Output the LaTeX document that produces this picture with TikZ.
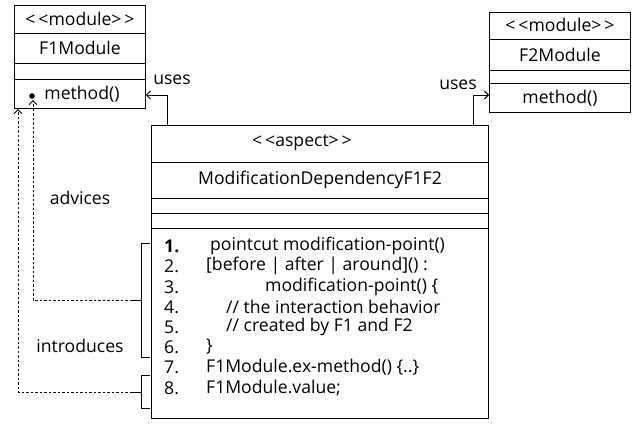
\documentclass[tikz,border=0pt]{standalone}
\usepackage{fontspec}
\setmainfont{Open Sans}
\usetikzlibrary{arrows.meta}
\begin{document}
\begin{tikzpicture}[x=1pt,y=-1pt,
  box/.style={draw,line width=0.9pt,minimum width=#1,inner sep=0pt,anchor=north west},
  sep/.style={line width=0.9pt},
  txt/.style={font=\fontsize{17.6}{19}\selectfont,inner sep=0pt},
  code/.style={txt,anchor=west},
  conn/.style={line width=0.9pt,-{Straight Barb[length=4pt,width=8pt]}},
  dep/.style={line width=0.9pt,dash pattern=on 2.5pt off 2pt,-{Straight Barb[length=4pt,width=8pt]}},
  brk/.style={line width=0.9pt}]
\path[use as bounding box] (0,0) rectangle (636,423);

% F1 module
\node[box=131pt,minimum height=103pt] (f1) at (14,5) {};
\draw[sep] (14,33) -- (145,33) (14,63) -- (145,63) (14,79) -- (145,79);
\node[txt] (f1st) at (80,19) {<\,<module>\,>};
\node[txt] (f1name) at (80,48) {F1Module};
\node[txt] (f1m) at (82,94) {method()};
\fill (32,96) circle (2.8pt);
\coordinate (f1dot) at (33,100);

% F2 module
\node[box=141pt,minimum height=100pt] (f2) at (489,12) {};
\draw[sep] (489,39) -- (630,39) (489,70) -- (630,70) (489,83) -- (630,83);
\node[txt] (f2st) at (560,25) {<\,<module>\,>};
\node[txt] (f2name) at (560,55) {F2Module};
\node[txt] (f2m) at (560,98) {method()};

% aspect
\draw[line width=1pt] (151,125) -- (488,125) -- (488,418.5) -- (151,418.5) -- cycle;
\coordinate (asp) at (151,125);
\draw[sep] (151,162) -- (488,162) (151,198) -- (488,198) (151,213) -- (488,213) (151,228) -- (488,228);
\node[txt] (aspst) at (302,143) {<\,<aspect>\,>};
\node[txt] (aspname) at (320,180) {ModificationDependencyF1F2};

% code lines
\node[code] (n1) at (164,246) {\textbf{1.}};
\node[code] (n2) at (164,266) {2.};
\node[code] (n3) at (164,287) {3.};
\node[code] (n4) at (164,307) {4.};
\node[code] (n5) at (164,327) {5.};
\node[code] (n6) at (164,347) {6.};
\node[code] (n7) at (164,367) {7.};
\node[code] (n8) at (164,388) {8.};
\node[code] (c1) at (210,246) {pointcut modification-point()};
\node[code] (c2) at (206,266) {[before | after | around]() :};
\node[code] (c3) at (265,287) {modification-point() \{};
\node[code] (c4) at (226,307) {// the interaction behavior};
\node[code] (c5) at (226,327) {// created by F1 and F2};
\node[code] (c6) at (206,347) {\}};
\node[code] (c7) at (206,367) {F1Module.ex-method() \{..\}};
\node[code] (c8) at (206,388) {F1Module.value;};

% uses connectors
\coordinate (u1) at (167,125);
\coordinate (u2) at (473,125);
\draw[conn] (u1) |- (f1.east |- 0,95);
\draw[conn] (u2) |- (f2.west |- 0,95);
\node[txt] (uses1) at (172,80) {uses};
\node[txt] (uses2) at (458,85) {uses};

% brackets
\draw[brk] (150,243) -- (141,243) -- (141,357) -- (150,357);
\draw[brk] (150,375) -- (141,375) -- (141,408) -- (150,408);
\coordinate (b1) at (141,300);
\coordinate (b2) at (141,392);
\coordinate (b1e) at (132,300);
\coordinate (b2e) at (132,392);
\draw[brk] (b1) -- (b1e);
\draw[brk] (b2) -- (b2e);

% advices / introduces
\draw[dep] (b1e) -- (33,300) -- (f1dot);
\draw[dep] (b2e) -- (18,392) -- (18,109);
\node[txt] (adv) at (80,198) {advices};
\node[txt] (intro) at (80,346) {introduces};
\end{tikzpicture}
\end{document}
